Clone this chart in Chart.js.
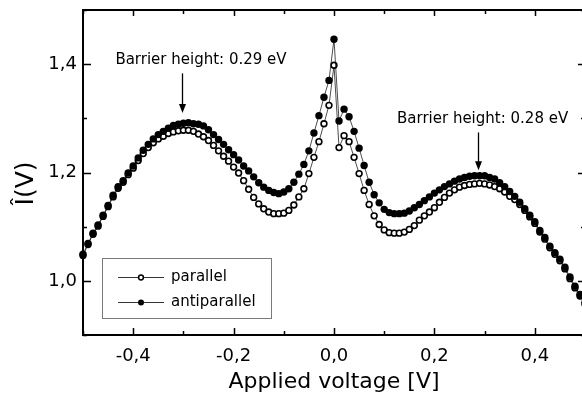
<!DOCTYPE html>
<html>
<head>
<meta charset="utf-8">
<script src="https://cdn.jsdelivr.net/npm/chart.js@4/dist/chart.umd.min.js"></script>
<style>
  html, body { margin: 0; padding: 0; background: #fff; overflow: hidden; }
  #wrap { position: relative; width: 592px; height: 401px; }
</style>
</head>
<body>
<div id="wrap"><canvas id="chart"></canvas></div>
<script>
// applied voltage [V]
const voltage = [
  -0.50, -0.49, -0.48, -0.47, -0.46, -0.45, -0.44, -0.43, -0.42, -0.41,
  -0.40, -0.39, -0.38, -0.37, -0.36, -0.35, -0.34, -0.33, -0.32, -0.31,
  -0.30, -0.29, -0.28, -0.27, -0.26, -0.25, -0.24, -0.23, -0.22, -0.21,
  -0.20, -0.19, -0.18, -0.17, -0.16, -0.15, -0.14, -0.13, -0.12, -0.11,
  -0.10, -0.09, -0.08, -0.07, -0.06, -0.05, -0.04, -0.03, -0.02, -0.01,
   0.00,  0.01,  0.02,  0.03,  0.04,  0.05,  0.06,  0.07,  0.08,  0.09,
   0.10,  0.11,  0.12,  0.13,  0.14,  0.15,  0.16,  0.17,  0.18,  0.19,
   0.20,  0.21,  0.22,  0.23,  0.24,  0.25,  0.26,  0.27,  0.28,  0.29,
   0.30,  0.31,  0.32,  0.33,  0.34,  0.35,  0.36,  0.37,  0.38,  0.39,
   0.40,  0.41,  0.42,  0.43,  0.44,  0.45,  0.46,  0.47,  0.48,  0.49,
   0.50
];

const parallel = [
  1.047, 1.067, 1.086, 1.101, 1.119, 1.137, 1.155, 1.171, 1.182, 1.196,
  1.208, 1.222, 1.235, 1.246, 1.255, 1.262, 1.267, 1.272, 1.275, 1.277,
  1.278, 1.278, 1.276, 1.271, 1.266, 1.259, 1.250, 1.240, 1.230, 1.221,
  1.210, 1.199, 1.185, 1.169, 1.154, 1.142, 1.133, 1.127, 1.124, 1.124,
  1.125, 1.130, 1.140, 1.155, 1.170, 1.198, 1.228, 1.257, 1.290, 1.324,
  1.398, 1.246, 1.268, 1.257, 1.228, 1.198, 1.167, 1.141, 1.120, 1.104,
  1.094, 1.089, 1.088, 1.088, 1.090, 1.095, 1.102, 1.112, 1.120, 1.127,
  1.135, 1.145, 1.154, 1.162, 1.168, 1.173, 1.176, 1.178, 1.179, 1.180,
  1.179, 1.177, 1.174, 1.170, 1.164, 1.156, 1.150, 1.141, 1.130, 1.118,
  1.106, 1.090, 1.077, 1.061, 1.049, 1.037, 1.022, 1.004, 0.987, 0.972,
  0.957
];

const antiparallel = [
  1.049, 1.069, 1.088, 1.103, 1.121, 1.139, 1.158, 1.174, 1.185, 1.199,
  1.212, 1.227, 1.241, 1.252, 1.262, 1.270, 1.276, 1.282, 1.287, 1.289,
  1.291, 1.292, 1.290, 1.289, 1.286, 1.279, 1.270, 1.261, 1.252, 1.242,
  1.233, 1.223, 1.212, 1.203, 1.192, 1.181, 1.173, 1.167, 1.163, 1.161,
  1.164, 1.170, 1.182, 1.197, 1.215, 1.240, 1.273, 1.305, 1.339, 1.370,
  1.446, 1.295, 1.317, 1.303, 1.276, 1.245, 1.213, 1.182, 1.159, 1.144,
  1.132, 1.126, 1.124, 1.124, 1.125, 1.129, 1.135, 1.141, 1.148, 1.155,
  1.162, 1.168, 1.174, 1.179, 1.184, 1.188, 1.191, 1.193, 1.194, 1.194,
  1.194, 1.191, 1.188, 1.181, 1.174, 1.165, 1.156, 1.145, 1.133, 1.121,
  1.109, 1.093, 1.080, 1.064, 1.052, 1.040, 1.025, 1.007, 0.990, 0.975,
  0.960
];

const seriesNames = ["parallel", "antiparallel"];

const xTickValues = [-0.4, -0.2, 0.0, 0.2, 0.4];
const xTickLabels = ["-0,4", "-0,2", "0,0", "0,2", "0,4"];
const xMinorTicks = [-0.5, -0.3, -0.1, 0.1, 0.3, 0.5];
const yTickValues = [1.0, 1.2, 1.4];
const yTickLabels = ["1,0", "1,2", "1,4"];
const yMinorTicks = [0.9, 1.1, 1.3, 1.5];

const yAxisTitle = "Î(V)";

// annotation: label position, arrow x and arrow span (data units)
const barrierNotes = [
  { text: "Barrier height: 0.29 eV", x: -0.265, y: 1.408, arrowX: -0.303, from: 1.383, to: 1.310 },
  { text: "Barrier height: 0.28 eV", x: 0.296, y: 1.2985, arrowX: 0.287, from: 1.274, to: 1.204 }
];

const FONT = "'DejaVu Sans', 'Liberation Sans', Arial, sans-serif";

function toPoints(ys) {
  return ys.map((y, i) => ({ x: voltage[i], y: y }));
}

const framePlugin = {
  id: "frame",
  beforeDatasetsDraw(chart) {
    const { ctx, chartArea: a, scales } = chart;
    const xs = scales.x, ys = scales.y;
    ctx.save();
    ctx.strokeStyle = "#000";
    ctx.lineWidth = 1.5;
    ctx.beginPath();
    xTickValues.forEach(v => {
      const p = Math.round(xs.getPixelForValue(v)) + 0.5;
      ctx.moveTo(p, a.bottom); ctx.lineTo(p, a.bottom - 7);
      ctx.moveTo(p, a.top); ctx.lineTo(p, a.top + 6);
    });
    xMinorTicks.forEach(v => {
      const p = Math.round(xs.getPixelForValue(v)) + 0.5;
      ctx.moveTo(p, a.bottom); ctx.lineTo(p, a.bottom - 4);
      ctx.moveTo(p, a.top); ctx.lineTo(p, a.top + 4);
    });
    yTickValues.forEach(v => {
      const p = Math.round(ys.getPixelForValue(v)) + 0.5;
      ctx.moveTo(a.left, p); ctx.lineTo(a.left + 8, p);
      ctx.moveTo(a.right, p); ctx.lineTo(a.right - 7, p);
    });
    yMinorTicks.forEach(v => {
      const p = Math.round(ys.getPixelForValue(v)) + 0.5;
      ctx.moveTo(a.left, p); ctx.lineTo(a.left + 4, p);
      ctx.moveTo(a.right, p); ctx.lineTo(a.right - 4, p);
    });
    ctx.stroke();
    ctx.lineWidth = 2;
    ctx.strokeRect(a.left, a.top, a.right - a.left, a.bottom - a.top);
    ctx.restore();
  },
  afterDatasetsDraw(chart) {
    const { ctx, chartArea: a, scales } = chart;
    const xs = scales.x, ys = scales.y;
    ctx.save();
    ctx.fillStyle = "#000";
    ctx.strokeStyle = "#000";

    // y axis title, sits a little below the middle of the axis
    ctx.save();
    ctx.translate(33, (a.top + a.bottom) / 2 + 11);
    ctx.rotate(-Math.PI / 2);
    ctx.font = "25px " + FONT;
    ctx.textAlign = "center";
    ctx.textBaseline = "alphabetic";
    ctx.fillText(yAxisTitle, 0, 0);
    ctx.restore();

    // barrier height notes with arrows
    ctx.font = "15px " + FONT;
    ctx.textAlign = "center";
    ctx.textBaseline = "middle";
    barrierNotes.forEach(n => {
      ctx.fillText(n.text, xs.getPixelForValue(n.x), ys.getPixelForValue(n.y));
      const ax = Math.round(xs.getPixelForValue(n.arrowX)) + 0.5;
      const y0 = ys.getPixelForValue(n.from);
      const y1 = ys.getPixelForValue(n.to);
      ctx.lineWidth = 1.3;
      ctx.beginPath();
      ctx.moveTo(ax, y0);
      ctx.lineTo(ax, y1 - 6);
      ctx.stroke();
      ctx.beginPath();
      ctx.moveTo(ax - 3.5, y1 - 9);
      ctx.lineTo(ax + 3.5, y1 - 9);
      ctx.lineTo(ax, y1);
      ctx.closePath();
      ctx.fill();
    });

    // legend box
    const bx = a.left + 19, by = a.top + 248, bw = 169, bh = 60;
    ctx.lineWidth = 1;
    ctx.strokeStyle = "#7a7a7a";
    ctx.strokeRect(bx + 0.5, by + 0.5, bw, bh);
    ctx.textAlign = "left";
    ctx.font = "15px " + FONT;
    chart.data.datasets.forEach((ds, i) => {
      const ry = Math.round(by + 19 + i * 24.5) + 0.5;
      ctx.strokeStyle = "#000";
      ctx.lineWidth = 0.8;
      ctx.beginPath();
      ctx.moveTo(bx + 16, ry);
      ctx.lineTo(bx + 62, ry);
      ctx.stroke();
      ctx.beginPath();
      ctx.arc(bx + 39, ry, i === 0 ? 2.4 : 3, 0, Math.PI * 2);
      if (i === 0) {
        ctx.fillStyle = "#fff";
        ctx.fill();
        ctx.lineWidth = 1.5;
        ctx.stroke();
      } else {
        ctx.fillStyle = "#000";
        ctx.fill();
      }
      ctx.fillStyle = "#000";
      ctx.fillText(ds.label, bx + 69, ry);
    });
    ctx.restore();
  }
};

new Chart(document.getElementById("chart"), {
  type: "line",
  data: {
    datasets: [
      {
        label: seriesNames[0],
        data: toPoints(parallel),
        order: 2,
        borderColor: "#000",
        borderWidth: 0.7,
        pointRadius: 2.9,
        pointBorderWidth: 1.6,
        pointBorderColor: "#000",
        pointBackgroundColor: "#fff",
        clip: false
      },
      {
        label: seriesNames[1],
        data: toPoints(antiparallel),
        order: 1,
        borderColor: "#000",
        borderWidth: 0.7,
        pointRadius: 3.7,
        pointBorderWidth: 0,
        pointBackgroundColor: "#000",
        clip: false
      }
    ]
  },
  options: {
    responsive: true,
    maintainAspectRatio: false,
    animation: false,
    events: [],
    layout: { padding: { top: 10, right: 7, left: 0, bottom: 0 } },
    plugins: {
      legend: { display: false },
      tooltip: { enabled: false }
    },
    scales: {
      x: {
        type: "linear",
        min: -0.5,
        max: 0.5,
        afterBuildTicks: s => { s.ticks = xTickValues.map(v => ({ value: v })); },
        afterFit: s => { s.height = 66; s.paddingLeft = 0; s.paddingRight = 0; },
        grid: { display: false, drawTicks: false },
        border: { display: false },
        ticks: {
          padding: 11,
          maxRotation: 0,
          color: "#000",
          font: { family: FONT, size: 18 },
          callback: (v, i) => xTickLabels[i]
        },
        title: {
          display: true,
          text: "Applied voltage [V]",
          color: "#000",
          font: { family: FONT, size: 22 },
          padding: { top: 0, bottom: 6 }
        }
      },
      y: {
        type: "linear",
        min: 0.9,
        max: 1.5,
        afterBuildTicks: s => { s.ticks = yTickValues.map(v => ({ value: v })); },
        afterFit: s => { s.width = 83; s.paddingTop = 0; s.paddingBottom = 0; },
        grid: { display: false, drawTicks: false },
        border: { display: false },
        ticks: {
          padding: 6,
          color: "#000",
          font: { family: FONT, size: 18 },
          callback: (v, i) => yTickLabels[i]
        },
        title: { display: false }
      }
    }
  },
  plugins: [framePlugin]
});
</script>
</body>
</html>
